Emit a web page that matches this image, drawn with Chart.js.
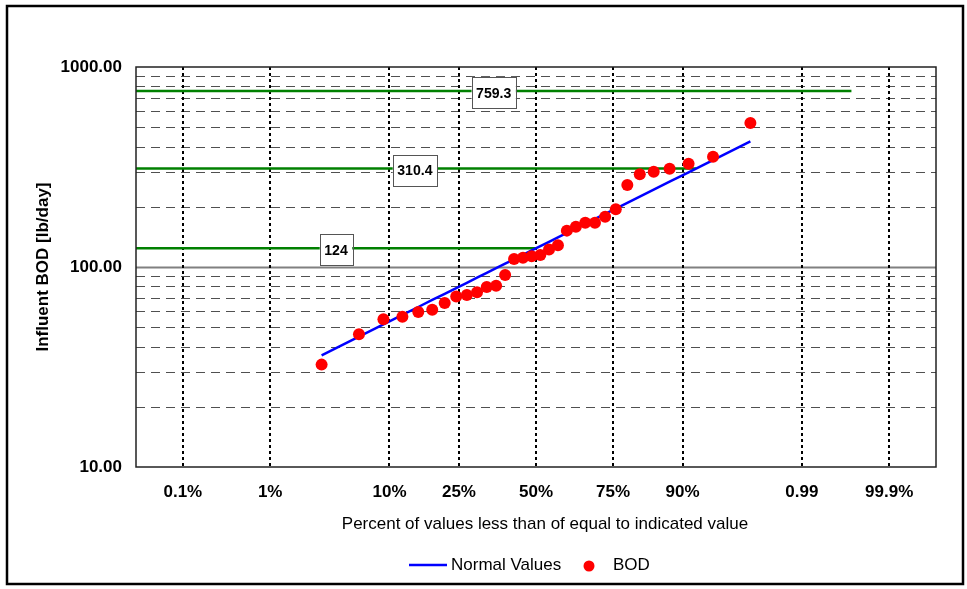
<!DOCTYPE html>
<html>
<head>
<meta charset="utf-8">
<title>Influent BOD probability plot</title>
<script src="https://cdn.jsdelivr.net/npm/chart.js@4.4.1/dist/chart.umd.min.js"></script>
<style>
  html, body { margin: 0; padding: 0; background: #fff; }
</style>
</head>
<body>
<canvas id="bodChart" width="967" height="589"></canvas>
<script>
// probability axis: positions are normal z-scores, labels are the percentages shown
const probTicks = [-3.09, -2.326, -1.282, -0.674, 0, 0.674, 1.282, 2.326, 3.09];
const probLabels = ['0.1%', '1%', '10%', '25%', '50%', '75%', '90%', '0.99', '99.9%'];
const zMin = -3.5;
const zMax = 3.5;

// plotting position (z) of each sorted sample
const sampleZ = [-1.876, -1.549, -1.335, -1.169, -1.030, -0.908, -0.799, -0.698, -0.605, -0.516, -0.431,
    -0.349, -0.270, -0.192, -0.114, -0.038, 0.038, 0.114, 0.192, 0.270, 0.349, 0.431, 0.516, 0.605,
    0.698, 0.799, 0.908, 1.030, 1.169, 1.335, 1.549, 1.876];

// measured influent BOD (lb/day), sorted
const bodValues = [32.5, 46.1, 54.8, 56.4, 59.6, 61.2, 66.1, 71.2, 72.4, 74.7, 79.4, 80.5, 91.2, 109.6,
    111.3, 113.1, 114.8, 122.4, 128.5, 152.0, 159.0, 166.5, 166.5, 178.2, 194.5, 257.0, 291.0, 299.6,
    310.1, 328.6, 356.0, 524.8];

// fitted "normal" values at the same positions
const normalValues = [36.2, 44.9, 51.7, 57.6, 63.1, 68.4, 73.4, 78.5, 83.4, 88.4, 93.5, 98.6, 103.9,
    109.3, 115.1, 121.0, 127.1, 133.6, 140.7, 148.1, 155.9, 164.5, 173.9, 184.4, 196.0, 209.4, 224.9,
    243.6, 266.9, 297.6, 342.4, 424.4];

// green reference levels, where they stop, and where their label sits
const refLevels = [124, 310.4, 759.3];
const refEndZ = [0.01, 1.40, 2.76];
const refLabelZ = [-1.75, -1.06, -0.37];

const FONT = '"Liberation Sans", Arial, sans-serif';

const decor = {
    id: 'decor',
    beforeDraw(chart) {
        const ctx = chart.ctx;
        ctx.save();
        ctx.fillStyle = '#fff';
        ctx.fillRect(0, 0, chart.width, chart.height);
        ctx.restore();
    },
    beforeDatasetsDraw(chart) {
        const { ctx, chartArea: a, scales: { x, y } } = chart;
        ctx.save();
        // log grid: dashed minor lines, solid grey at 100
        for (let dec = 10; dec < 1000; dec *= 10) {
            for (let m = 1; m < 10; m++) {
                const v = dec * m;
                if (v === 10) continue;
                const py = Math.round(y.getPixelForValue(v));
                ctx.beginPath();
                if (v === 100) {
                    ctx.setLineDash([]);
                    ctx.strokeStyle = '#808080';
                    ctx.lineWidth = 2;
                } else {
                    ctx.setLineDash([9, 6]);
                    ctx.strokeStyle = '#505050';
                    ctx.lineWidth = 1;
                }
                ctx.moveTo(a.left, py + 0.5);
                ctx.lineTo(a.right, py + 0.5);
                ctx.stroke();
            }
        }
        // dotted verticals at the probability ticks
        ctx.setLineDash([3, 3]);
        ctx.strokeStyle = '#000';
        ctx.lineWidth = 2;
        probTicks.forEach(z => {
            const px = Math.round(x.getPixelForValue(z));
            ctx.beginPath();
            ctx.moveTo(px, a.top);
            ctx.lineTo(px, a.bottom);
            ctx.stroke();
        });
        ctx.restore();
    },
    afterDatasetsDraw(chart) {
        const { ctx, chartArea: a, scales: { x, y } } = chart;
        ctx.save();
        // value boxes on the green lines
        refLevels.forEach((v, i) => {
            const text = String(v);
            ctx.font = 'bold 15px ' + FONT;
            const sx = 0.94;
            const tw = ctx.measureText(text).width * sx;
            const w = tw + 9;
            const h = 31;
            const cx = x.getPixelForValue(refLabelZ[i]);
            const cy = y.getPixelForValue(v) + 1.5;
            ctx.fillStyle = '#fff';
            ctx.fillRect(cx - w / 2, cy - h / 2, w, h);
            ctx.strokeStyle = '#555';
            ctx.lineWidth = 1;
            ctx.strokeRect(Math.round(cx - w / 2) + 0.5, Math.round(cy - h / 2) + 0.5, Math.round(w), h);
            ctx.save();
            ctx.translate(cx, cy);
            ctx.scale(sx, 1);
            ctx.fillStyle = '#000';
            ctx.textAlign = 'center';
            ctx.textBaseline = 'middle';
            ctx.fillText(text, 0, 1);
            ctx.restore();
        });
        // plot frame
        ctx.strokeStyle = '#222';
        ctx.lineWidth = 1.5;
        ctx.strokeRect(a.left, a.top, a.right - a.left, a.bottom - a.top);
        ctx.restore();
    },
    afterDraw(chart) {
        const { ctx, chartArea: a } = chart;
        ctx.save();
        // x axis title (sits a little right of centre in the original)
        ctx.font = '17px ' + FONT;
        ctx.fillStyle = '#000';
        ctx.textAlign = 'center';
        ctx.textBaseline = 'middle';
        ctx.fillText('Percent of values less than of equal to indicated value', (a.left + a.right) / 2 + 9, a.bottom + 57);

        // legend
        const ly = 565;
        ctx.strokeStyle = chart.data.datasets[1].borderColor;
        ctx.lineWidth = 2.5;
        ctx.beginPath();
        ctx.moveTo(409, ly);
        ctx.lineTo(447, ly);
        ctx.stroke();
        ctx.textAlign = 'left';
        ctx.fillText('Normal Values', 451, ly);
        ctx.fillStyle = chart.data.datasets[0].backgroundColor;
        ctx.beginPath();
        ctx.arc(589, ly + 1, 5.5, 0, Math.PI * 2);
        ctx.fill();
        ctx.fillStyle = '#000';
        ctx.fillText('BOD', 613, ly);

        // outer frame
        ctx.strokeStyle = '#000';
        ctx.lineWidth = 2.5;
        ctx.strokeRect(7, 6, 956, 578);
        ctx.restore();
    }
};

const ctx = document.getElementById('bodChart').getContext('2d');

const datasets = [
    {
        label: 'BOD',
        data: sampleZ.map((z, i) => ({ x: z, y: bodValues[i] })),
        backgroundColor: '#ff0000',
        borderWidth: 0,
        pointRadius: 6,
        showLine: false,
        order: 0
    },
    {
        label: 'Normal Values',
        data: sampleZ.map((z, i) => ({ x: z, y: normalValues[i] })),
        borderColor: '#0000ff',
        borderWidth: 2.5,
        pointRadius: 0,
        showLine: true,
        order: 1
    }
];
refLevels.forEach((v, i) => {
    datasets.push({
        label: 'Level ' + v,
        data: [{ x: zMin, y: v }, { x: refEndZ[i], y: v }],
        borderColor: '#008000',
        borderWidth: 2.5,
        pointRadius: 0,
        showLine: true,
        order: 2
    });
});

new Chart(ctx, {
    type: 'scatter',
    data: { datasets },
    options: {
        responsive: false,
        devicePixelRatio: 1,
        animation: false,
        events: [],
        layout: { padding: { left: 0, top: 67, right: 31, bottom: 0 } },
        plugins: {
            legend: { display: false },
            tooltip: { enabled: false }
        },
        scales: {
            x: {
                type: 'linear',
                min: zMin,
                max: zMax,
                afterBuildTicks: (scale) => {
                    scale.ticks = probTicks.map(v => ({ value: v }));
                },
                afterFit: (scale) => { scale.height = 122; },
                grid: { display: false, drawTicks: false },
                border: { display: false },
                ticks: {
                    autoSkip: false,
                    maxRotation: 0,
                    padding: 15,
                    color: '#000',
                    font: { family: FONT, size: 17, weight: 'bold' },
                    callback: (v, i) => probLabels[i]
                }
            },
            y: {
                type: 'logarithmic',
                min: 10,
                max: 1000,
                afterFit: (scale) => { scale.width = 136; },
                grid: { display: false, drawTicks: false },
                border: { display: false },
                title: {
                    display: true,
                    text: 'Influent BOD [lb/day]',
                    color: '#000',
                    font: { family: FONT, size: 17, weight: 'bold' },
                    padding: { top: 33, bottom: 0 }
                },
                ticks: {
                    autoSkip: false,
                    padding: 14,
                    color: '#000',
                    font: { family: FONT, size: 17, weight: 'bold' },
                    callback: (v) => (v === 10 || v === 100 || v === 1000) ? v.toFixed(2) : ''
                }
            }
        }
    },
    plugins: [decor]
});
</script>
</body>
</html>
